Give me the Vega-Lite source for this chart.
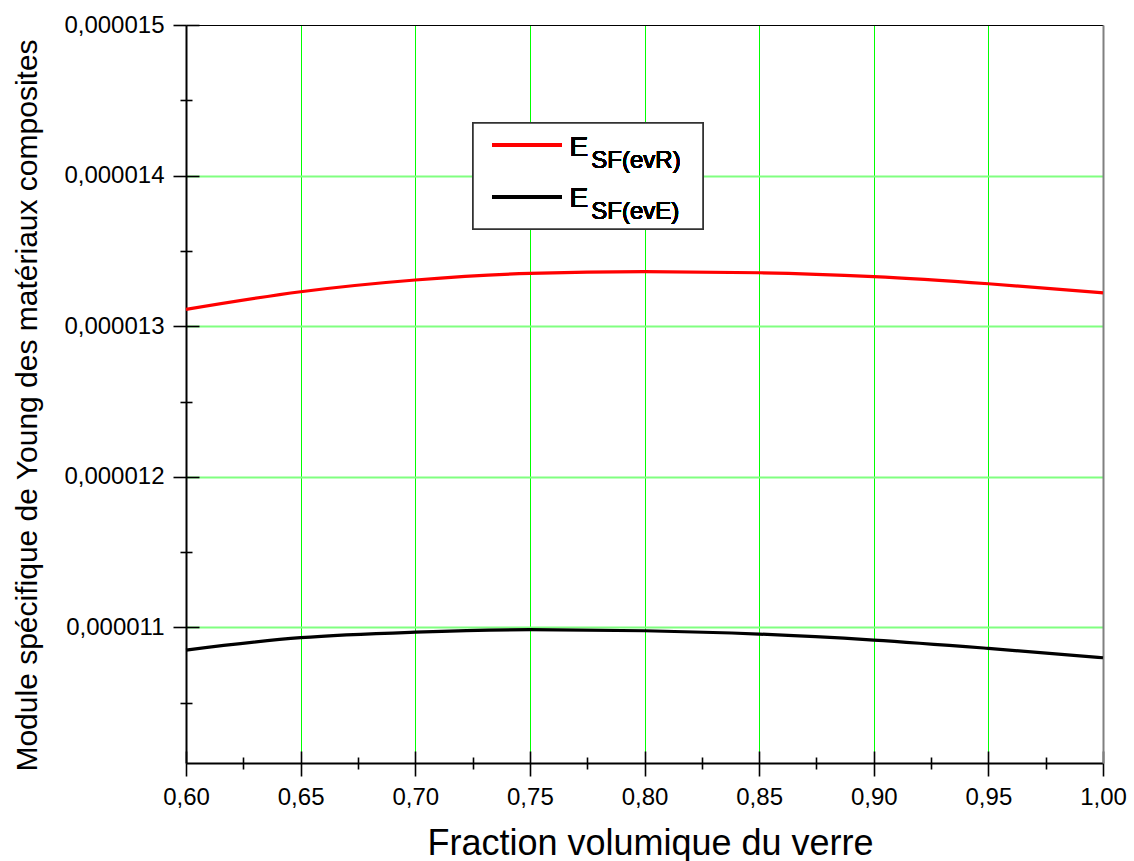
{
  "$schema": "https://vega.github.io/schema/vega-lite/v6.json",
  "width": 917,
  "height": 738,
  "autosize": {"type": "none"},
  "padding": {"left": 186, "top": 25, "right": 31, "bottom": 98},
  "background": "white",
  "config": {
    "view": {"stroke": null},
    "font": "Liberation Sans",
    "axis": {"labelFont": "Liberation Sans", "titleFont": "Liberation Sans", "labelColor": "#000", "titleColor": "#000", "titleFontWeight": "normal", "labelFontWeight": "normal"}
  },
  "data": {
    "values": [
      {"series": "ESF(evR)", "f": 0.60, "E": 0.000013112},
      {"series": "ESF(evR)", "f": 0.65, "E": 0.000013229},
      {"series": "ESF(evR)", "f": 0.70, "E": 0.000013307},
      {"series": "ESF(evR)", "f": 0.75, "E": 0.000013351},
      {"series": "ESF(evR)", "f": 0.80, "E": 0.000013362},
      {"series": "ESF(evR)", "f": 0.85, "E": 0.000013355},
      {"series": "ESF(evR)", "f": 0.90, "E": 0.000013329},
      {"series": "ESF(evR)", "f": 0.95, "E": 0.000013282},
      {"series": "ESF(evR)", "f": 1.00, "E": 0.000013222},
      {"series": "ESF(evE)", "f": 0.60, "E": 0.000010850},
      {"series": "ESF(evE)", "f": 0.65, "E": 0.000010932},
      {"series": "ESF(evE)", "f": 0.70, "E": 0.000010969},
      {"series": "ESF(evE)", "f": 0.75, "E": 0.000010985},
      {"series": "ESF(evE)", "f": 0.80, "E": 0.000010978},
      {"series": "ESF(evE)", "f": 0.85, "E": 0.000010956},
      {"series": "ESF(evE)", "f": 0.90, "E": 0.000010916},
      {"series": "ESF(evE)", "f": 0.95, "E": 0.000010861},
      {"series": "ESF(evE)", "f": 1.00, "E": 0.000010799}
    ]
  },
  "layer": [
    {
      "mark": {"type": "line", "opacity": 0},
      "encoding": {
        "x": {
          "field": "f", "type": "quantitative",
          "scale": {"domain": [0.6, 1.0], "nice": false, "zero": false},
          "axis": {
            "orient": "bottom", "title": null, "labels": false, "domain": false, "ticks": false,
            "values": [0.65, 0.7, 0.75, 0.8, 0.85, 0.9, 0.95],
            "grid": true, "gridColor": "#00ff00", "gridWidth": 1, "gridOpacity": 1
          }
        },
        "y": {
          "field": "E", "type": "quantitative",
          "scale": {"domain": [0.0000101, 0.000015], "nice": false, "zero": false},
          "axis": {
            "orient": "left", "title": null, "labels": false, "domain": false, "ticks": false,
            "values": [0.000011, 0.000012, 0.000013, 0.000014],
            "grid": true, "gridColor": "#80ff80", "gridWidth": 2, "gridOpacity": 1
          }
        },
        "detail": {"field": "series"}
      }
    },
    {
      "encoding": {
        "x": {"field": "f", "type": "quantitative", "scale": {"domain": [0.6, 1.0], "nice": false, "zero": false}},
        "y": {"field": "E", "type": "quantitative", "scale": {"domain": [0.0000101, 0.000015], "nice": false, "zero": false}}
      },
      "layer": [
        {
          "mark": {"type": "line", "strokeWidth": 3.2, "interpolate": "monotone"},
          "encoding": {
            "x": {
              "field": "f", "type": "quantitative",
              "axis": {
                "orient": "bottom",
                "title": "Fraction volumique du verre",
                "titleFontSize": 36,
                "titlePadding": 17,
                "titleX": 464,
                "values": [0.6, 0.625, 0.65, 0.675, 0.7, 0.725, 0.75, 0.775, 0.8, 0.825, 0.85, 0.875, 0.9, 0.925, 0.95, 0.975, 1.0],
                "labelExpr": "abs(round(datum.value*20) - datum.value*20) > 0.25 ? '' : replace(format(datum.value, '.2f'), '.', ',')",
                "labelFontSize": 24,
                "labelPadding": 9,
                "labelFlush": false,
                "labelOverlap": false,
                "domainColor": "#000",
                "domainWidth": 2,
                "tickColor": "#000",
                "tickWidth": 1.6,
                "tickSize": {"condition": {"test": "abs(round(datum.value*20) - datum.value*20) > 0.25", "value": 6}, "value": 13},
                "grid": false
              }
            },
            "y": {
              "field": "E", "type": "quantitative",
              "axis": {
                "orient": "left",
                "title": "Module spécifique de Young des matériaux composites",
                "titleFontSize": 30,
                "titlePadding": 21,
                "titleY": 380,
                "values": [0.0000105, 0.000011, 0.0000115, 0.000012, 0.0000125, 0.000013, 0.0000135, 0.000014, 0.0000145, 0.000015],
                "labelExpr": "abs(round(datum.value*1e6) - datum.value*1e6) > 0.25 ? '' : replace(format(datum.value, '.6f'), '.', ',')",
                "labelFontSize": 24,
                "labelPadding": 9,
                "labelFlush": false,
                "labelOverlap": false,
                "domainColor": "#000",
                "domainWidth": 2,
                "tickColor": "#000",
                "tickWidth": 1.6,
                "tickSize": {"condition": {"test": "abs(round(datum.value*1e6) - datum.value*1e6) > 0.25", "value": 6}, "value": 13},
                "grid": false
              }
            },
            "color": {"field": "series", "type": "nominal", "scale": {"domain": ["ESF(evR)", "ESF(evE)"], "range": ["#ff0000", "#000000"]}, "legend": null}
          }
        },
        {
          "mark": {"type": "rect", "fill": "white", "stroke": "#333333", "strokeWidth": 1.5},
          "encoding": {
            "x": {"datum": 0.7252}, "x2": {"datum": 0.8255},
            "y": {"datum": 0.000014349}, "y2": {"datum": 0.000013645}
          }
        },
        {
          "mark": {"type": "rule", "color": "#ff0000", "strokeWidth": 3.2},
          "encoding": {
            "x": {"datum": 0.7335}, "x2": {"datum": 0.7640},
            "y": {"datum": 0.000014203}
          }
        },
        {
          "mark": {"type": "rule", "color": "#000000", "strokeWidth": 3.2},
          "encoding": {
            "x": {"datum": 0.7335}, "x2": {"datum": 0.7640},
            "y": {"datum": 0.000013858}
          }
        },
        {
          "mark": {"type": "text", "align": "left", "baseline": "alphabetic", "fontSize": 28, "color": "#000", "font": "Liberation Sans"},
          "encoding": {"x": {"datum": 0.7673}, "y": {"datum": 0.000014132}, "text": {"value": "E"}}
        },
        {
          "mark": {"type": "text", "align": "left", "baseline": "alphabetic", "fontSize": 24, "color": "#000", "font": "Liberation Sans"},
          "encoding": {"x": {"datum": 0.7768}, "y": {"datum": 0.000014048}, "text": {"value": "SF(evR)"}}
        },
        {
          "mark": {"type": "text", "align": "left", "baseline": "alphabetic", "fontSize": 28, "color": "#000", "font": "Liberation Sans"},
          "encoding": {"x": {"datum": 0.7673}, "y": {"datum": 0.000013789}, "text": {"value": "E"}}
        },
        {
          "mark": {"type": "text", "align": "left", "baseline": "alphabetic", "fontSize": 24, "color": "#000", "font": "Liberation Sans"},
          "encoding": {"x": {"datum": 0.7768}, "y": {"datum": 0.000013710}, "text": {"value": "SF(evE)"}}
        }
      ]
    },
    {
      "mark": {"type": "line", "opacity": 0},
      "encoding": {
        "x": {
          "field": "f", "type": "quantitative",
          "scale": {"domain": [0.6, 1.0], "nice": false, "zero": false},
          "axis": {
            "orient": "bottom", "title": null, "labels": false, "domain": false, "grid": false,
            "values": [0.6, 0.65, 0.7, 0.75, 0.8, 0.85, 0.9, 0.95, 1.0],
            "tickSize": -12, "tickColor": "#000", "tickWidth": 1.6
          }
        },
        "y": {
          "field": "E", "type": "quantitative",
          "scale": {"domain": [0.0000101, 0.000015], "nice": false, "zero": false},
          "axis": {
            "orient": "left", "title": null, "labels": false, "domain": false, "grid": false,
            "values": [0.000011, 0.000012, 0.000013, 0.000014, 0.000015],
            "tickSize": -13, "tickColor": "#000", "tickWidth": 1.6
          }
        },
        "detail": {"field": "series"}
      }
    },
    {
      "mark": {"type": "line", "opacity": 0},
      "encoding": {
        "x": {
          "field": "f", "type": "quantitative",
          "scale": {"domain": [0.6, 1.0], "nice": false, "zero": false},
          "axis": {
            "orient": "bottom", "title": null, "labels": false, "domain": false, "grid": false,
            "values": [0.625, 0.675, 0.725, 0.775, 0.825, 0.875, 0.925, 0.975],
            "tickSize": -6, "tickColor": "#000", "tickWidth": 1.6
          }
        },
        "y": {
          "field": "E", "type": "quantitative",
          "scale": {"domain": [0.0000101, 0.000015], "nice": false, "zero": false},
          "axis": {
            "orient": "left", "title": null, "labels": false, "domain": false, "grid": false,
            "values": [0.0000105, 0.0000115, 0.0000125, 0.0000135, 0.0000145],
            "tickSize": -6, "tickColor": "#000", "tickWidth": 1.6
          }
        },
        "detail": {"field": "series"}
      }
    },
    {
      "mark": {"type": "line", "opacity": 0},
      "encoding": {
        "x": {
          "field": "f", "type": "quantitative",
          "scale": {"domain": [0.6, 1.0], "nice": false, "zero": false},
          "axis": {"orient": "top", "title": null, "labels": false, "ticks": false, "grid": false, "domainColor": "#000", "domainWidth": 1.2}
        },
        "y": {
          "field": "E", "type": "quantitative",
          "scale": {"domain": [0.0000101, 0.000015], "nice": false, "zero": false},
          "axis": {"orient": "right", "title": null, "labels": false, "ticks": false, "grid": false, "domainColor": "#808080", "domainWidth": 2}
        },
        "detail": {"field": "series"}
      }
    }
  ],
  "resolve": {
    "scale": {"x": "independent", "y": "independent"},
    "axis": {"x": "independent", "y": "independent"}
  }
}
